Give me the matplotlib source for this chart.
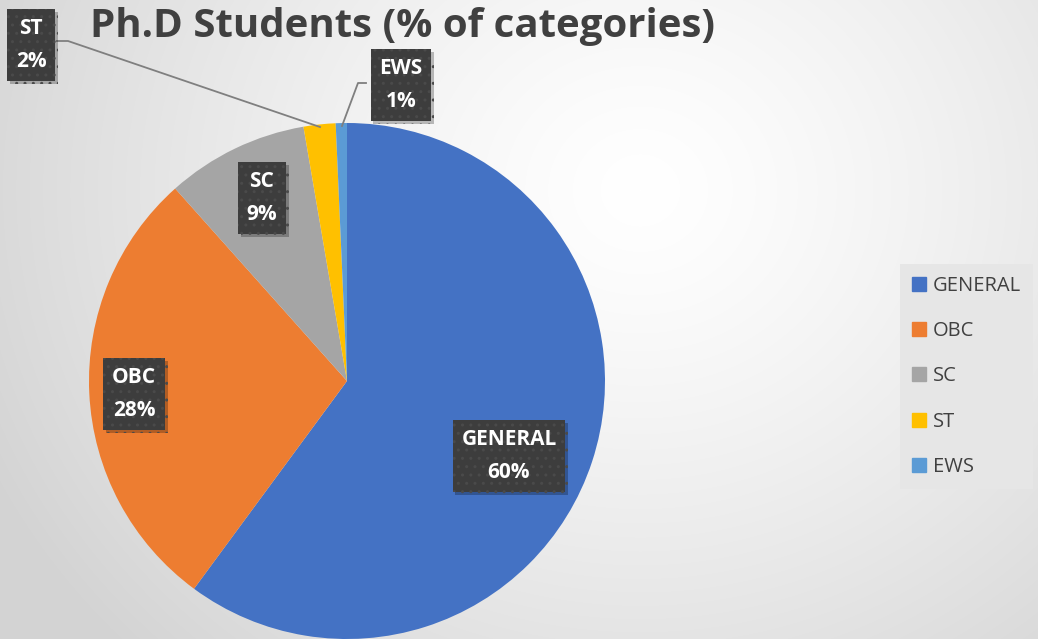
import numpy as np
import matplotlib.pyplot as plt
import matplotlib.patheffects as pe

categories = ['GENERAL', 'OBC', 'SC', 'ST', 'EWS']
shares = [60.1, 28.3, 8.9, 2.0, 0.7]
pct_labels = ['60%', '28%', '9%', '2%', '1%']
colors = ['#4472C4', '#ED7D31', '#A5A5A5', '#FFC000', '#5B9BD5']

W, H = 1038, 639
fig = plt.figure(figsize=(W / 100, H / 100), dpi=100)

# radial grey background
bg = fig.add_axes([0, 0, 1, 1])
yy, xx = np.mgrid[0:H, 0:W]
d = np.hypot(xx - 640, (yy - 190) * 1.1) / 720
shade = 1 - 0.17 * np.clip(d, 0, 1) ** 1.3
bg.imshow(np.dstack([shade] * 3), extent=(0, W, H, 0), aspect='auto')
bg.axis('off')

ax = fig.add_axes([0, 0, 1, 1])
ax.set_facecolor('none')

def img(x, y):
    # image pixel coords -> data coords (y up)
    return x, H - y

cx, cy = img(347, 381)
ax.pie(shares, colors=colors, startangle=90, counterclock=False,
       center=(cx, cy), radius=258, frame=True)
ax.set_xlim(0, W)
ax.set_ylim(0, H)
ax.set_aspect('equal')
ax.axis('off')

lbl_font = ['Open Sans', 'DejaVu Sans']
box = dict(boxstyle='square,pad=0.42', facecolor='#3d3d3d', edgecolor='#4a4a4a',
           hatch='..', linewidth=0)
label_pos = {'GENERAL': (509, 456), 'OBC': (134, 394), 'SC': (262, 198),
             'ST': (31, 45), 'EWS': (401, 85)}
for cat, pct in zip(categories, pct_labels):
    x, y = img(*label_pos[cat])
    t = ax.text(x, y, f'{cat}\n{pct}', ha='center', va='center', color='white',
                fontsize=15, fontweight='bold', family=lbl_font, linespacing=1.75,
                bbox=box, zorder=5)
    t.get_bbox_patch().set_path_effects(
        [pe.SimplePatchShadow(offset=(2, -2), shadow_rgbFace='#000000', alpha=0.25),
         pe.Normal()])

# leader lines for the small slices
st_x, st_y = zip(img(57, 41), img(68, 41), img(320, 127))
ax.plot(st_x, st_y, color='#7f7f7f', lw=1.3, zorder=4)
ews_x, ews_y = zip(img(366, 83), img(358, 83), img(342, 126))
ax.plot(ews_x, ews_y, color='#7f7f7f', lw=1.3, zorder=4)

fig.text(402 / W, 1 - 26 / H, 'Ph.D Students (% of categories)', ha='center', va='center',
         fontsize=29, fontweight='bold', color='#404040', family=lbl_font)

# legend
handles = [plt.Rectangle((0, 0), 1, 1, color=c) for c in colors]
leg = fig.legend(handles, categories, loc='upper left',
                 bbox_to_anchor=(900 / W, 1 - 264 / H), frameon=True,
                 fancybox=False, facecolor='#e6e6e6', edgecolor='none', framealpha=1,
                 prop={'family': lbl_font, 'size': 14.5}, labelcolor='#404040',
                 handlelength=0.7, handleheight=0.7, handletextpad=0.35,
                 labelspacing=1.25, borderpad=0.6, borderaxespad=0)

fig.savefig('out.png', dpi=100)
